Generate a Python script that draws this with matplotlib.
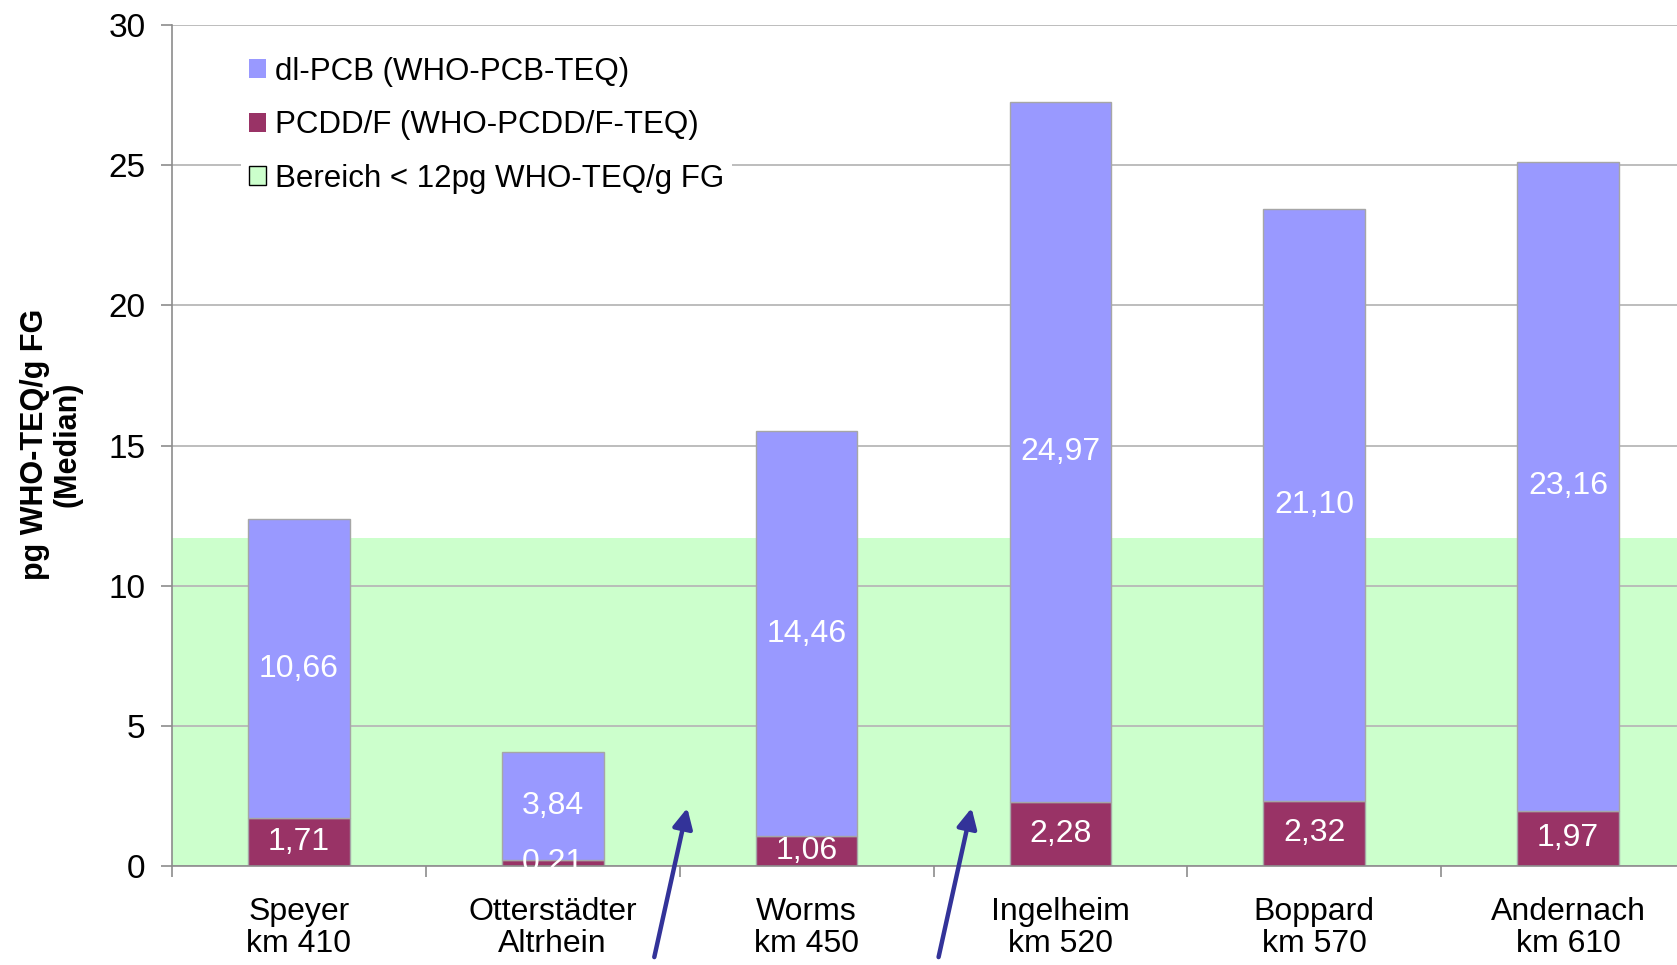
import matplotlib
matplotlib.use("Agg")
import matplotlib.pyplot as plt
from matplotlib.patches import Patch
import numpy as np

plt.rcParams['font.family'] = ['Liberation Sans', 'DejaVu Sans']

# data
stations = ['Speyer\nkm 410', 'Otterstädter\nAltrhein', 'Worms\nkm 450',
            'Ingelheim\nkm 520', 'Boppard\nkm 570', 'Andernach\nkm 610']
pcdd = [1.71, 0.21, 1.06, 2.28, 2.32, 1.97]
dl_pcb = [10.66, 3.84, 14.46, 24.97, 21.10, 23.16]
green_top = 11.7   # upper edge of the shaded "Bereich < 12pg" band

# arrows pointing at the gaps (tail x, tail y, tip x, tip y) in data units
arrows = [(1.40, -3.25, 1.53, 2.07), (2.52, -3.25, 2.65, 2.07)]

col_pcb = '#9999FF'
col_pcdd = '#993366'
col_green = '#CCFFCC'
col_grid = '#B8B8B8'

fig = plt.figure(figsize=(16.77, 9.65), dpi=100)
ax = fig.add_axes([172 / 1677, 99 / 965, 1523 / 1677, 841 / 965])

x = np.arange(len(stations))
ax.axhspan(0, green_top, color=col_green, zorder=0.2, lw=0)
ax.bar(x, pcdd, 0.4, color=col_pcdd, edgecolor='#A6A6A6', linewidth=1, zorder=2)
ax.bar(x, dl_pcb, 0.4, bottom=pcdd, color=col_pcb, edgecolor='#A6A6A6',
       linewidth=1, zorder=2)

def fmt(v):
    return f'{v:.2f}'.replace('.', ',')

for i in range(len(stations)):
    ax.text(x[i], pcdd[i] / 2, fmt(pcdd[i]), ha='center', va='center',
            color='white', fontsize=23, zorder=3, clip_on=False)
    ax.text(x[i], pcdd[i] + dl_pcb[i] / 2, fmt(dl_pcb[i]), ha='center',
            va='center', color='white', fontsize=23, zorder=3)

ax.set_xlim(-0.5, len(stations) - 0.5)
ax.set_ylim(0, 30)
ax.set_yticks(range(0, 31, 5))
ax.set_xticks(x)
ax.set_xticklabels(stations, fontsize=23, linespacing=1.12)
ax.set_xticks(np.arange(-0.5, len(stations), 1), minor=True)
ax.tick_params(axis='x', which='major', length=0, pad=22)
ax.tick_params(axis='x', which='minor', length=8, width=1.2, color='#8C8C8C')
ax.tick_params(axis='y', length=8, width=1.2, color='#8C8C8C', pad=11,
               labelsize=24)

ax.set_axisbelow(True)
ax.grid(axis='y', color=col_grid, linewidth=1.3)
for s in ['top', 'right']:
    ax.spines[s].set_visible(False)
ax.spines['left'].set_color('#8C8C8C')
ax.spines['bottom'].set_color('#8C8C8C')
ax.spines['left'].set_linewidth(1.2)
ax.spines['bottom'].set_linewidth(1.2)

fig.text(51 / 1677, 1 - 444 / 965, 'pg WHO-TEQ/g FG\n(Median)', rotation=90,
         ha='center', va='center', fontsize=22, fontweight='bold',
         multialignment='center', linespacing=1.1)

for tx, ty, hx, hy in arrows:
    ax.annotate('', xy=(hx, hy), xytext=(tx, ty), annotation_clip=False,
                arrowprops=dict(arrowstyle='-|>', color='#333399', lw=3.2,
                                mutation_scale=30, shrinkA=0, shrinkB=0))

handles = [Patch(facecolor=col_pcb, edgecolor='none'),
           Patch(facecolor=col_pcdd, edgecolor='none'),
           Patch(facecolor=col_green, edgecolor='black', linewidth=1)]
labels = ['dl-PCB (WHO-PCB-TEQ)', 'PCDD/F (WHO-PCDD/F-TEQ)',
          'Bereich < 12pg WHO-TEQ/g FG']
leg = ax.legend(handles, labels, loc='upper left',
                bbox_to_anchor=(0.035, 0.99), fontsize=22.5, frameon=True,
                facecolor='white', edgecolor='none', framealpha=1,
                fancybox=False, handlelength=0.55, handleheight=0.55,
                handletextpad=0.3, labelspacing=0.75, borderpad=0.25)

fig.savefig('out.png', dpi=100)
